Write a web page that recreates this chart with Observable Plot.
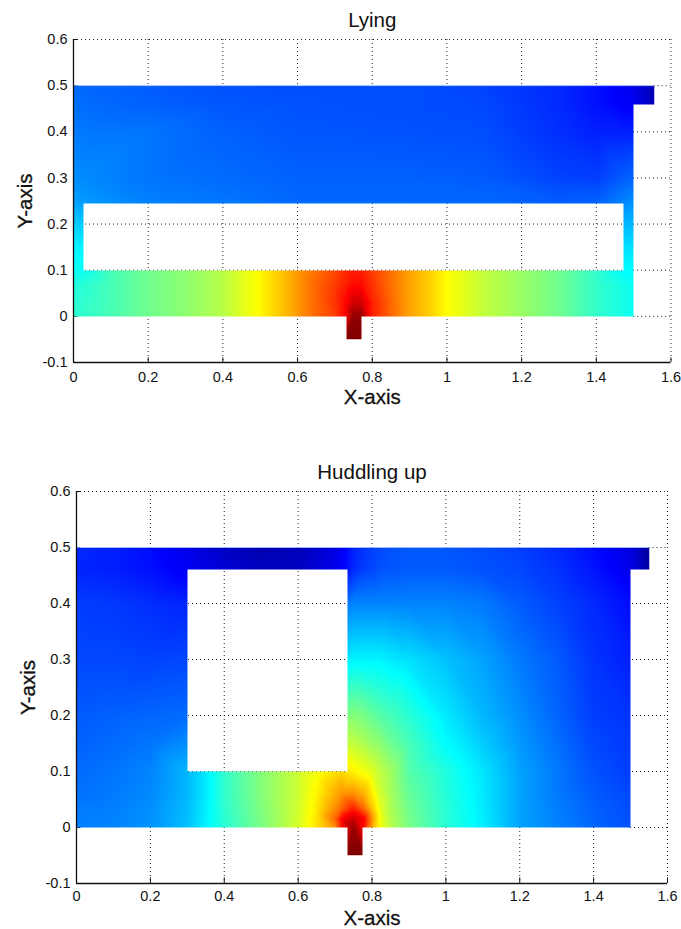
<!DOCTYPE html>
<html><head><meta charset="utf-8">
<style>
html,body{margin:0;padding:0;background:#fff}
svg{display:block}
</style>
<script src="https://cdn.jsdelivr.net/npm/d3@7"></script>
<script src="https://cdn.jsdelivr.net/npm/@observablehq/plot@0.6"></script>
</head><body>
<div id="chart"></div>
<script>
const xTicks = [0, 0.2, 0.4, 0.6, 0.8, 1, 1.2, 1.4, 1.6];
const yTicks = [-0.1, 0, 0.1, 0.2, 0.3, 0.4, 0.5, 0.6];
const colorStops = [0, 0.11, 0.36, 0.61, 0.86, 1];
const jet = ["#00008f", "#0000ff", "#00ffff", "#ffff00", "#ff0000", "#800000"];

// Lying: bottom band
const lyingBandX = [0, .1, .2, .3, .4, .45, .5, .55, .6, .65, .7, .73, .75, .77, .8, .85, .9, .95, 1, 1.05, 1.1, 1.2, 1.3, 1.4, 1.5];
const lyingBandY = [0, .03, .07, .1];
const lyingBandV = [
  [.40,.43,.47,.50,.54,.58,.615,.66,.71,.76,.80,.87,.98,.98,.83,.76,.70,.66,.61,.58,.55,.51,.47,.41,.37],
  [.40,.43,.47,.50,.54,.58,.615,.66,.71,.76,.81,.86,.91,.91,.83,.76,.70,.66,.61,.58,.55,.51,.47,.41,.37],
  [.39,.43,.47,.50,.54,.58,.615,.66,.71,.76,.80,.83,.85,.85,.81,.75,.70,.66,.61,.58,.55,.51,.47,.41,.37],
  [.38,.43,.47,.50,.54,.58,.615,.66,.71,.75,.79,.82,.83,.83,.80,.75,.70,.66,.61,.58,.55,.51,.47,.41,.37]
];
// Lying: side strips and upper hall
const lyingHallX = [0, .03, .2, .4, .6, .9, 1.1, 1.3, 1.4, 1.47, 1.5, 1.555];
const lyingHallY = [.1, .15, .2, .25, .3, .4, .46, .5];
const lyingHallV = [
  [.37,.37,null,null,null,null,null,null,null,.36,.36,null],
  [.35,.35,null,null,null,null,null,null,null,.33,.33,null],
  [.31,.31,null,null,null,null,null,null,null,.29,.29,null],
  [.265,.26,.235,.225,.21,.21,.21,.20,.205,.235,.25,null],
  [.25,.245,.225,.215,.205,.205,.20,.175,.17,.20,.21,null],
  [.23,.228,.225,.205,.195,.19,.185,.155,.14,.14,.14,null],
  [.22,.215,.205,.195,.19,.185,.18,.15,.125,.105,.10,.04],
  [.21,.21,.20,.19,.185,.185,.175,.15,.125,.10,.09,.03]
];
const lyingStubX = [.73, .77];
const lyingStubY = [-.05];
const lyingStubV = [[1, 1]];
const lyingHoles = [[.028, .1, 1.472, .245]];
const lyingOutline = [[0,0],[.73,0],[.73,-.05],[.77,-.05],[.77,0],[1.5,0],[1.5,.46],[1.555,.46],[1.555,.5],[0,.5]];

// Huddling up
const huddleX = [0, .1, .2, .3, .35, .4, .5, .6, .65, .7, .72, .75, .777, .8, .82, .85, .9, 1, 1.1, 1.2, 1.3, 1.4, 1.5, 1.55];
const huddleY = [0, .015, .034, .06, .1, .15, .2, .3, .4, .46, .5];
const huddleV = [
  [.235,.24,.255,.30,.35,.40,.48,.57,.64,.72,.86,.97,.86,.70,.61,.54,.48,.40,.345,.27,.24,.21,.19,null],
  [.232,.237,.252,.297,.347,.402,.482,.568,.635,.76,.87,.92,.87,.72,.61,.535,.475,.40,.345,.27,.237,.207,.187,null],
  [.23,.235,.25,.295,.345,.405,.485,.565,.63,.72,.77,.83,.76,.67,.59,.53,.47,.40,.34,.27,.235,.205,.185,null],
  [.22,.23,.245,.29,.34,.41,.49,.56,.62,.69,.715,.72,.69,.63,.57,.525,.46,.395,.34,.27,.23,.20,.18,null],
  [.215,.225,.24,.29,.34,.41,.49,.56,.60,.64,.645,.62,.60,.58,.55,.52,.445,.39,.335,.27,.23,.19,.17,null],
  [.205,.215,.225,.25,null,null,null,null,null,null,null,.55,.53,.51,.50,.47,.43,.36,.31,.26,.22,.18,.165,null],
  [.20,.205,.21,.215,null,null,null,null,null,null,null,.49,.48,.46,.445,.43,.40,.34,.29,.25,.21,.17,.16,null],
  [.18,.18,.175,.18,null,null,null,null,null,null,null,.35,.35,.35,.35,.34,.33,.30,.27,.23,.20,.16,.14,null],
  [.17,.165,.155,.145,null,null,null,null,null,null,null,.24,.24,.24,.24,.24,.24,.24,.23,.20,.175,.15,.12,null],
  [.145,.14,.125,.10,null,.07,.05,.05,.07,.09,.11,.15,.17,.18,.19,.195,.20,.20,.19,.18,.16,.13,.09,.02],
  [.15,.14,.12,.09,.07,.05,.03,.04,.06,.08,.10,.14,.16,.17,.18,.19,.195,.195,.185,.17,.15,.12,.08,.01]
];
const huddleStubX = [.735, .775];
const huddleStubY = [-.05];
const huddleStubV = [[1, 1]];
const huddleHoles = [[.3, .1, .735, .46]];
const huddleOutline = [[0,0],[.735,0],[.735,-.05],[.775,-.05],[.775,0],[1.5,0],[1.5,.46],[1.55,.46],[1.55,.5],[0,.5]];

function samples(xs, ys, rows) {
  const out = [];
  ys.forEach((y, j) => xs.forEach((x, i) => {
    if (rows[j][i] != null) out.push({x, y, v: rows[j][i]});
  }));
  return out;
}

let clipCount = 0;
function clipTo(outline, holes) {
  return function (index, scales, values, dims, context, next) {
    const g = next(index, scales, values, dims, context);
    const P = ([a, b]) => `${Math.round(scales.x(a))},${Math.round(scales.y(b))}`;
    let d = "M" + outline.map(P).join("L") + "Z";
    for (const [a, b, c, e] of holes) d += "M" + [[a,b],[c,b],[c,e],[a,e]].map(P).join("L") + "Z";
    const id = "patch-clip-" + (++clipCount);
    const ns = "http://www.w3.org/2000/svg";
    const cp = document.createElementNS(ns, "clipPath");
    cp.setAttribute("id", id);
    const path = document.createElementNS(ns, "path");
    path.setAttribute("d", d);
    path.setAttribute("clip-rule", "evenodd");
    path.setAttribute("shape-rendering", "crispEdges");
    cp.appendChild(path);
    g.insertBefore(cp, g.firstChild);
    g.setAttribute("clip-path", `url(#${id})`);
    return g;
  };
}

const FONT = "'Liberation Sans', Arial, sans-serif";
const DOT = "1,3";
const GRID = {stroke: "#222", strokeOpacity: 1, strokeDasharray: DOT};
function panel({title, data, outline, holes, edgeEnd, height, marginTop, marginBottom, marginLeft, marginRight, titleDy, xLabelDy, yLabelDx, xPad, yPad}) {
  return Plot.plot({
    width: 681, height, marginTop, marginBottom, marginLeft, marginRight,
    style: {fontFamily: FONT, background: "#fff", color: "#111"},
    x: {domain: [0, 1.6], axis: null},
    y: {domain: [-0.1, 0.6], axis: null},
    color: {type: "linear", domain: colorStops, range: jet, clamp: true},
    marks: [
      Plot.gridX(xTicks, GRID),
      Plot.gridY(yTicks.filter(t => t !== 0 && t !== 0.5), GRID),
      Plot.ruleY([0], {x1: 1.5, x2: 1.6, ...GRID}),
      Plot.ruleY([0.5], {x1: edgeEnd, x2: 1.6, ...GRID}),
      Plot.ruleX(xTicks, {y1: -0.1, y2: -0.09, stroke: "#111"}),
      Plot.ruleY(yTicks, {x1: 0, x2: 0.012, stroke: "#111"}),
      Plot.raster(data, {x: "x", y: "y", fill: "v", interpolate: "barycentric", render: clipTo(outline, holes)}),
      Plot.ruleY([0.5], {x1: 0, x2: edgeEnd, stroke: "#8fb8ff", strokeOpacity: 0.7}),
      Plot.ruleX([0], {stroke: "#111", strokeWidth: 1.3}),
      Plot.ruleY([-0.1], {stroke: "#111", strokeWidth: 1.3}),
      Plot.axisX(xTicks, {anchor: "bottom", tickSize: 0, tickPadding: xPad, fontSize: 14.5, tickFormat: d => String(d), label: null}),
      Plot.axisY(yTicks, {anchor: "left", tickSize: 0, tickPadding: yPad, fontSize: 14.5, tickFormat: d => String(d), label: null}),
      Plot.text([title], {frameAnchor: "top", dy: titleDy, fontSize: 20.5, fill: "#111"}),
      Plot.text(["X-axis"], {frameAnchor: "bottom", dy: xLabelDy, fontSize: 20.5, fill: "#111", stroke: "#111", strokeWidth: 0.3}),
      Plot.text(["Y-axis"], {frameAnchor: "left", textAnchor: "middle", dx: yLabelDx, rotate: -90, fontSize: 20.5, fill: "#111", stroke: "#111", strokeWidth: 0.3})
    ]
  });
}

const chart = document.getElementById("chart");
chart.append(panel({
  title: "Lying",
  data: [...samples(lyingBandX, lyingBandY, lyingBandV), ...samples(lyingHallX, lyingHallY, lyingHallV), ...samples(lyingStubX, lyingStubY, lyingStubV)],
  outline: lyingOutline, holes: lyingHoles, edgeEnd: 1.555,
  height: 455, marginTop: 39, marginBottom: 93, marginLeft: 73, marginRight: 10.5,
  titleDy: -27, xLabelDy: 41, yLabelDx: -48, xPad: 9, yPad: 6
}));
chart.append(panel({
  title: "Huddling up",
  data: [...samples(huddleX, huddleY, huddleV), ...samples(huddleStubX, huddleStubY, huddleStubV)],
  outline: huddleOutline, holes: huddleHoles, edgeEnd: 1.55,
  height: 474, marginTop: 36, marginBottom: 46, marginLeft: 76, marginRight: 14,
  titleDy: -27, xLabelDy: 41, yLabelDx: -48, xPad: 7, yPad: 6
}));
</script>
</body></html>
